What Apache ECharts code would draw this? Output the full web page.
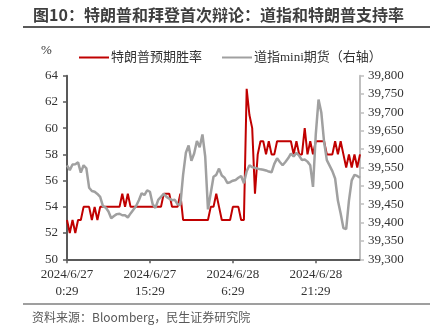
<!DOCTYPE html>
<html>
<head>
<meta charset="utf-8">
<script src="https://cdn.jsdelivr.net/npm/echarts@6/dist/echarts.min.js"></script>
<style>
  html, body { margin: 0; padding: 0; background: #fff; }
  #chart { width: 442px; height: 331px; }
</style>
</head>
<body>
<div id="chart"></div>
<script>
// Half-hourly observations, 2024/6/27 0:29 onward
const startTime = '2024-06-27T00:29:00';
const pointCount = 107;
const stepMinutes = 30;

// Trump expected win rate (%), left axis
const trumpWinRate = [
  53, 52, 53, 52, 53, 53, 54, 54, 54, 53,
  54, 53, 54, 54, 54, 54, 54, 54, 54, 54,
  55, 54, 55, 54, 54, 54, 54, 54, 54, 54,
  54, 54, 54, 54, 54, 55, 55, 55, 54, 54,
  54, 55, 53, 53, 53, 53, 53, 53, 53, 53,
  53, 53, 54, 54, 55, 54, 53, 53, 53, 53,
  54, 54, 54, 53, 53, 63, 61, 60, 55, 58,
  59, 59, 58, 59, 58, 58, 59, 59, 59, 59,
  59, 59, 58, 59, 58, 58, 60, 58, 59, 58,
  59, 59, 59, 59, 58, 58, 58, 59, 58, 59,
  58, 57, 58, 57, 58, 57, 58
];

// Dow mini futures, right axis
const dowMini = [
  39556, 39543, 39558, 39559, 39564, 39536, 39556, 39548, 39495, 39486,
  39484, 39478, 39470, 39445, 39441, 39430, 39412, 39418, 39423, 39424,
  39420, 39420, 39414, 39425, 39435, 39445, 39461, 39480, 39475, 39488,
  39484, 39450, 39440, 39462, 39470, 39478, 39470, 39465, 39461, 39462,
  39450, 39448, 39530, 39590, 39610, 39568, 39588, 39622, 39605, 39640,
  39580, 39436, 39480, 39525, 39530, 39547, 39528, 39522, 39508, 39510,
  39514, 39516, 39522, 39527, 39507, 39540, 39556, 39551, 39549, 39547,
  39545, 39544, 39542, 39539, 39537, 39560, 39575, 39565, 39556, 39565,
  39575, 39588, 39580, 39590, 39582, 39570, 39572, 39566, 39556, 39497,
  39640, 39735, 39700, 39620, 39570, 39555, 39540, 39520, 39460, 39425,
  39385, 39382, 39460, 39515, 39530, 39527, 39522
];

const seriesNames = ['特朗普预期胜率', '道指mini期货（右轴）'];
const leftTicks = { min: 50, max: 64, interval: 2 };
const rightTicks = { min: 39300, max: 39800, interval: 50 };
const labelEvery = 30;

// Category labels "yyyy/m/d h:mm"
const categories = [];
{
  const t0 = new Date(startTime).getTime();
  for (let i = 0; i < pointCount; i++) {
    const d = new Date(t0 + i * stepMinutes * 60000);
    const mm = String(d.getMinutes()).padStart(2, '0');
    categories.push(d.getFullYear() + '/' + (d.getMonth() + 1) + '/' + d.getDate() + ' ' + d.getHours() + ':' + mm);
  }
}

const serif = "'Liberation Serif', 'Noto Sans CJK SC', serif";
const cjk = "'Noto Sans CJK SC', sans-serif";
const showEvery = (i) => i % labelEvery === 0;

const chart = echarts.init(document.getElementById('chart'), null, { renderer: 'canvas' });
chart.setOption({
  animation: false,
  backgroundColor: '#ffffff',
  grid: { left: 67, right: 82, top: 75.7, bottom: 71.7, containLabel: false },
  legend: {
    left: 74, top: 46,
    itemWidth: 30, itemHeight: 2, itemGap: 20,
    icon: 'rect',
    textStyle: { fontFamily: serif, fontSize: 13, color: '#333', padding: [0, 0, 0, -3] },
    data: seriesNames
  },
  xAxis: {
    type: 'category',
    data: categories,
    boundaryGap: false,
    axisLine: { lineStyle: { color: '#595959', width: 2 } },
    axisTick: { interval: showEvery, length: 4, lineStyle: { color: '#595959', width: 1.5 } },
    axisLabel: {
      interval: showEvery,
      formatter: (v) => v.replace(' ', '\n'),
      fontFamily: serif, fontSize: 13, color: '#333', lineHeight: 17, margin: 7
    },
    splitLine: { show: false }
  },
  yAxis: [
    {
      type: 'value', min: leftTicks.min, max: leftTicks.max, interval: leftTicks.interval,
      axisLine: { show: true, lineStyle: { color: '#595959', width: 2 } },
      axisTick: { show: true, length: 4, lineStyle: { color: '#595959', width: 1.5 } },
      axisLabel: { fontFamily: serif, fontSize: 13, color: '#333', margin: 9 },
      splitLine: { show: false }
    },
    {
      type: 'value', min: rightTicks.min, max: rightTicks.max, interval: rightTicks.interval,
      position: 'right',
      axisLine: { show: true, lineStyle: { color: '#bfbfbf', width: 2 } },
      axisTick: { show: true, length: 4, lineStyle: { color: '#bfbfbf', width: 1.5 } },
      axisLabel: {
        fontFamily: serif, fontSize: 13, color: '#333', margin: 8,
        formatter: (v) => v.toLocaleString('en-US')
      },
      splitLine: { show: false }
    }
  ],
  series: [
    {
      name: seriesNames[0], type: 'line', yAxisIndex: 0, data: trumpWinRate,
      showSymbol: false, symbol: 'none',
      lineStyle: { color: '#c00000', width: 2 }, itemStyle: { color: '#c00000' }
    },
    {
      name: seriesNames[1], type: 'line', yAxisIndex: 1, data: dowMini,
      showSymbol: false, symbol: 'none',
      lineStyle: { color: '#a0a0a0', width: 2.5 }, itemStyle: { color: '#a0a0a0' }
    }
  ],
  graphic: [
    {
      type: 'text', left: 33, top: 7,
      style: { text: '图10：特朗普和拜登首次辩论：道指和特朗普支持率', font: 'bold 16px ' + cjk, fill: '#3f3f3f' }
    },
    { type: 'line', shape: { x1: 23, y1: 27, x2: 430, y2: 27 }, style: { stroke: '#595959', lineWidth: 2 } },
    { type: 'text', left: 41, top: 44, style: { text: '%', font: '13px ' + serif, fill: '#333' } },
    { type: 'line', shape: { x1: 23, y1: 304, x2: 430, y2: 304 }, style: { stroke: '#7f7f7f', lineWidth: 1.5 } },
    {
      type: 'text', left: 32, top: 311,
      style: { text: '资料来源：Bloomberg，民生证券研究院', font: '12px ' + cjk, fill: '#595959' }
    }
  ]
});
</script>
</body>
</html>
